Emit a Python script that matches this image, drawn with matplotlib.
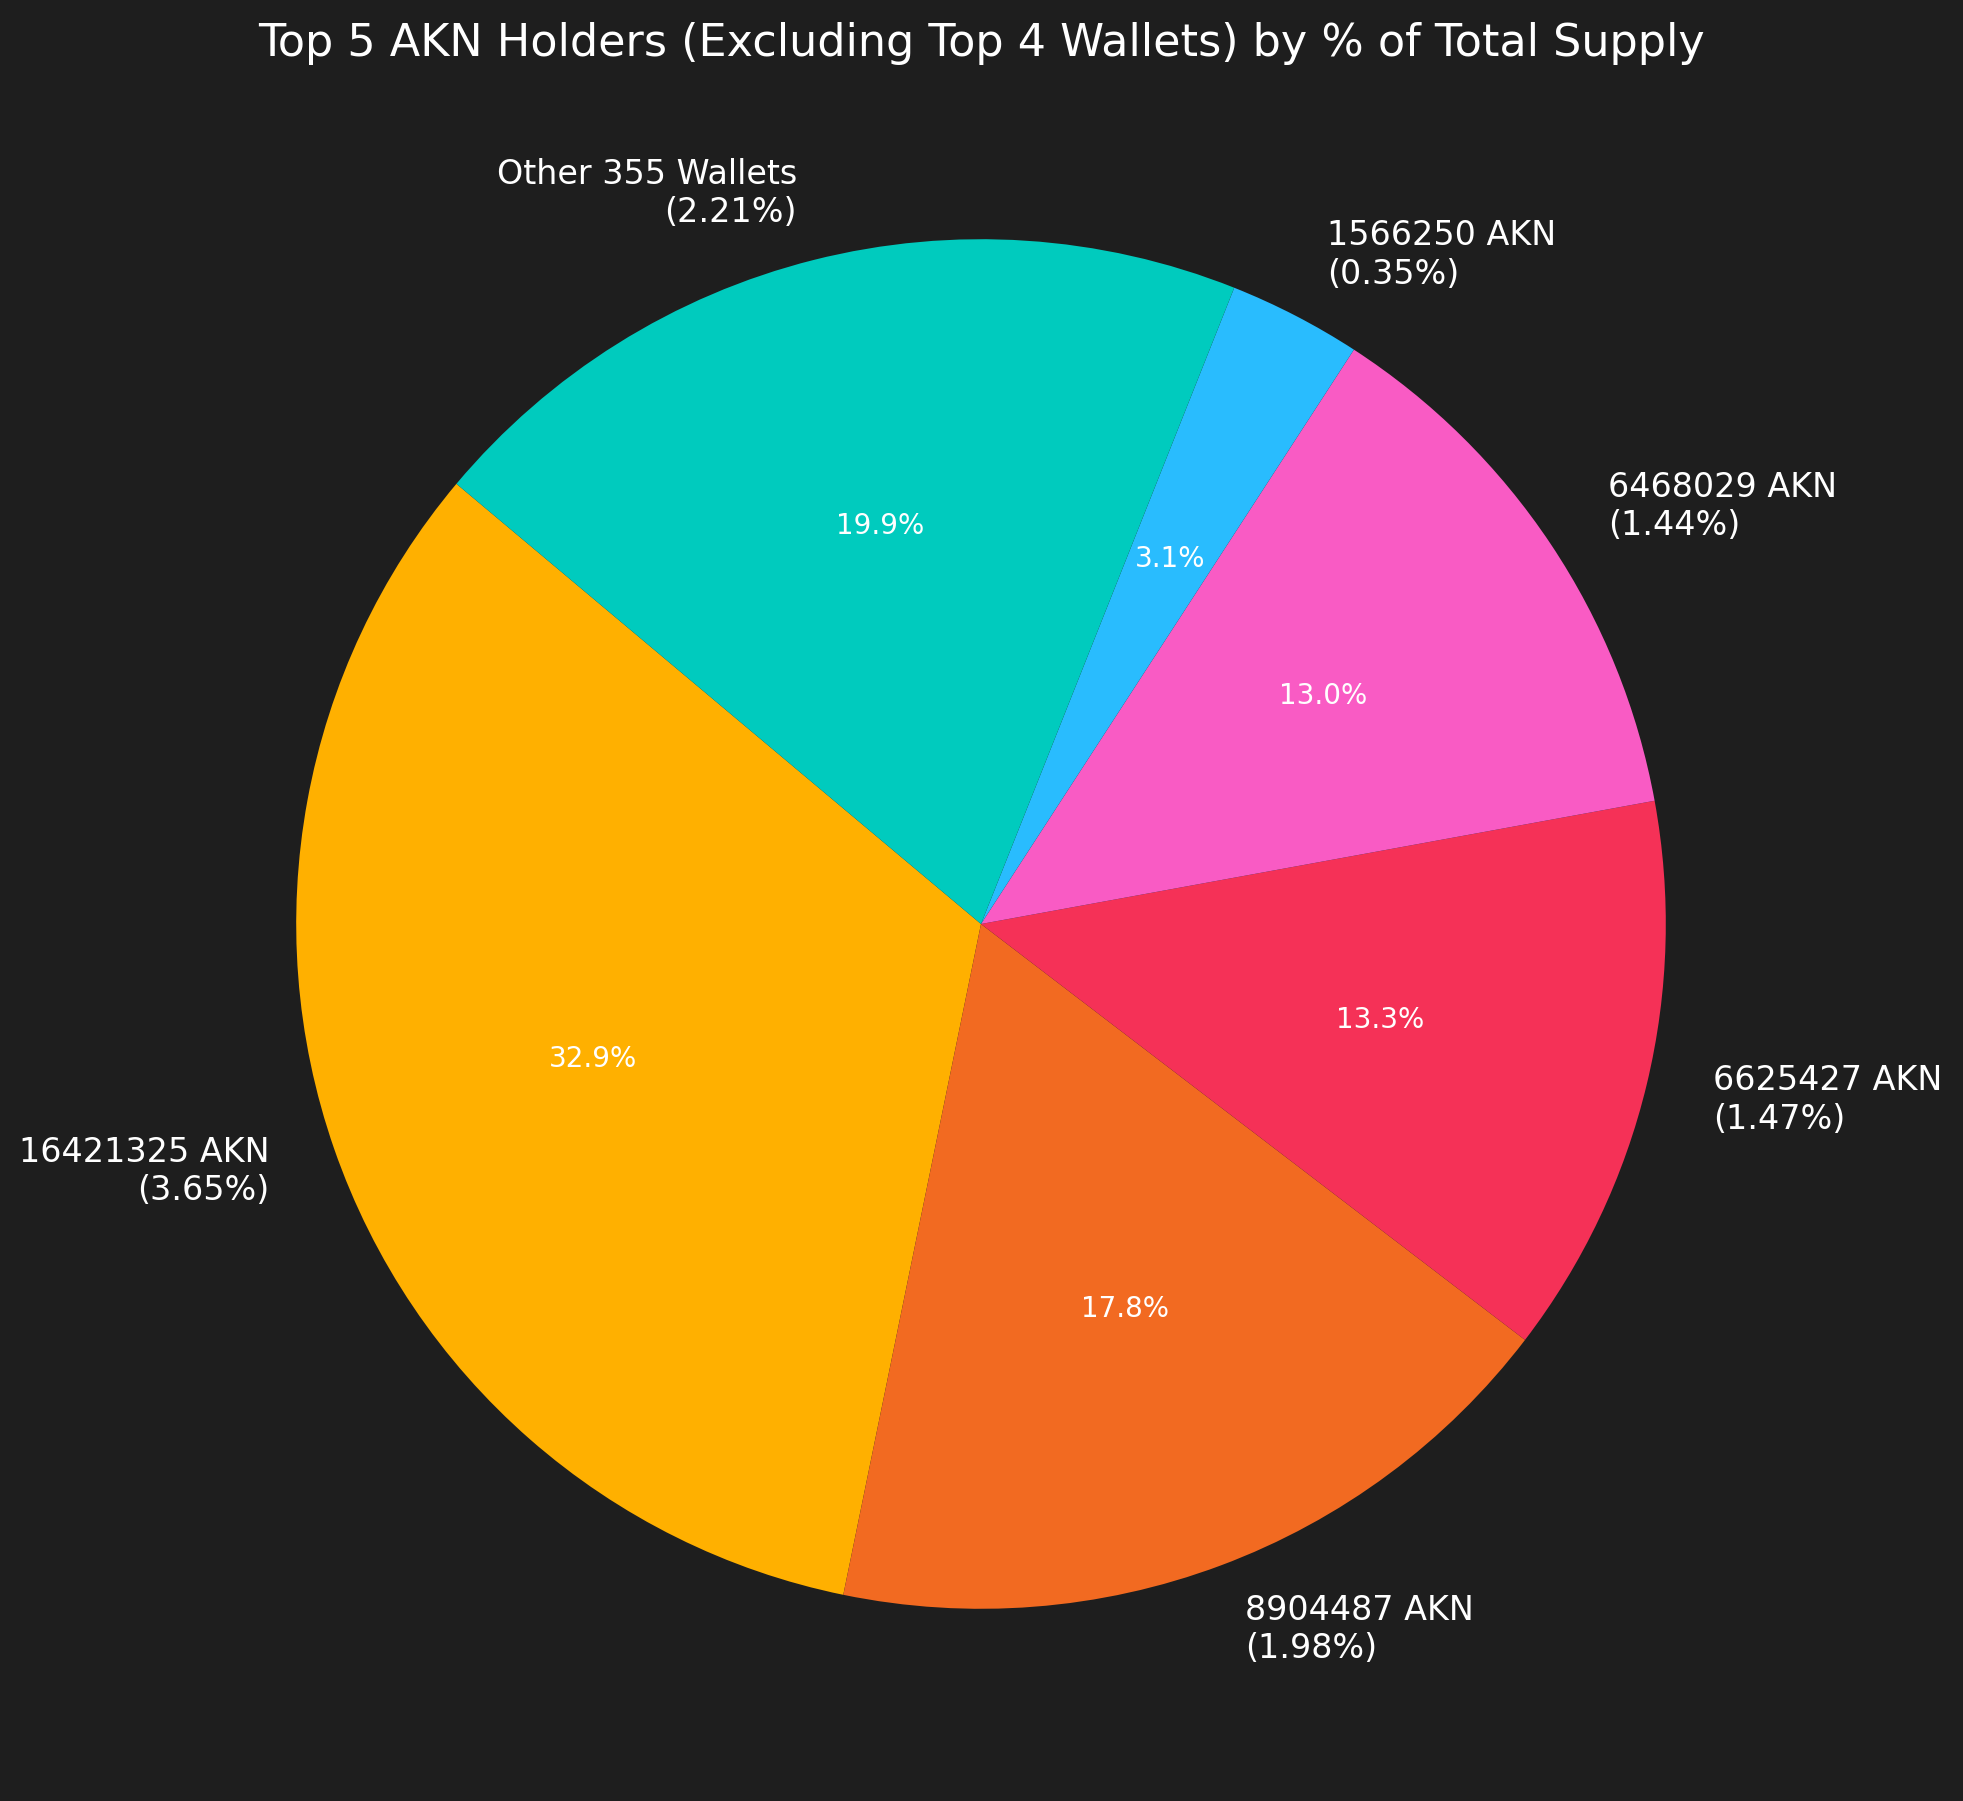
import matplotlib.pyplot as plt

# Holder data (AKN amounts and share of total supply)
holders = ['16421325 AKN', '8904487 AKN', '6625427 AKN', '6468029 AKN', '1566250 AKN', 'Other 355 Wallets']
amounts = [16421325, 8904487, 6625427, 6468029, 1566250, 9945000]
supply_pct = ['3.65%', '1.98%', '1.47%', '1.44%', '0.35%', '2.21%']
colors = ['#FFB000', '#F26A21', '#F53157', '#F95BC4', '#29BCFE', '#00CBBE']

labels = [f'{h}\n({p})' for h, p in zip(holders, supply_pct)]

bg = '#1e1e1e'
fig = plt.figure(figsize=(1963 / 200, 1801 / 200), dpi=200, facecolor=bg)
ax = fig.add_axes([125 / 1963, 21 / 1801, 1712 / 1963, 1712 / 1801])
ax.set_facecolor(bg)

wedges, texts, autotexts = ax.pie(amounts, labels=labels, colors=colors, startangle=140,
                                  autopct='%1.1f%%', textprops={'color': 'white', 'fontsize': 12})
for t in autotexts:
    t.set_fontsize(10)
ax.set_xlim(-1.25, 1.25)
ax.set_ylim(-1.25, 1.25)
ax.set_aspect('equal')

fig.text(981 / 1963, 1 - 56 / 1801, 'Top 5 AKN Holders (Excluding Top 4 Wallets) by % of Total Supply',
         ha='center', va='baseline', color='white', fontsize=16)

fig.savefig('out.png', dpi=200, facecolor=bg)
